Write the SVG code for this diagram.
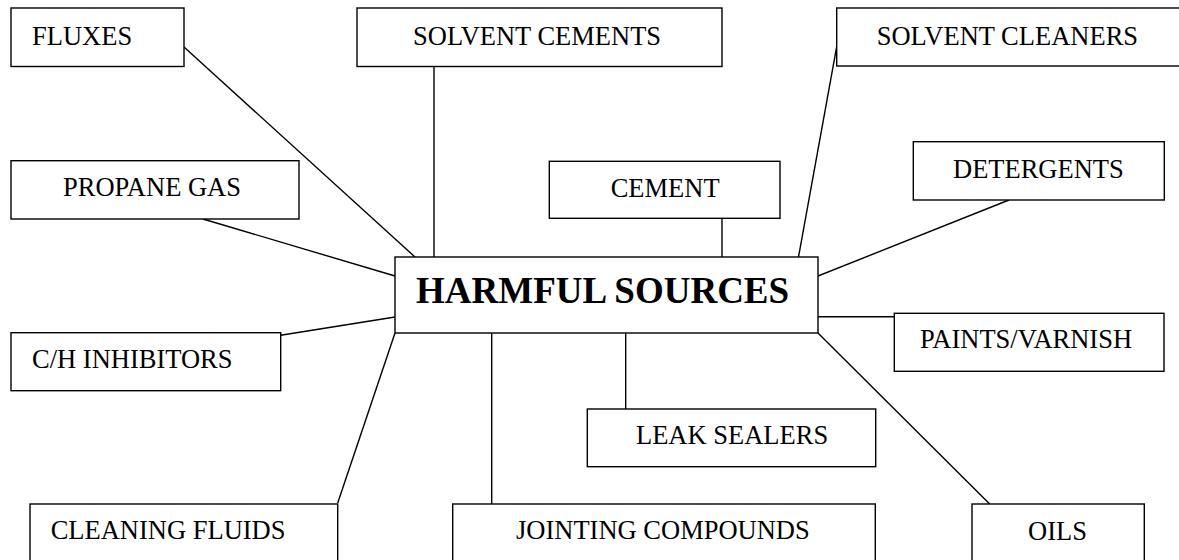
<svg xmlns="http://www.w3.org/2000/svg" width="1179" height="560" viewBox="0 0 1179 560">
<style>
.box{fill:#fff;stroke:#000;stroke-width:1.4}
.lbl{font-family:"Liberation Serif","Times New Roman",serif;font-size:26.5px;fill:#000}
.hub{font-family:"Liberation Serif","Times New Roman",serif;font-size:37px;font-weight:bold;fill:#000}
.conn line{stroke:#000;stroke-width:1.4}
</style>
<rect width="1179" height="560" fill="#fff"/>
<g class="conn" id="connectors">
<line x1="184" y1="47" x2="415" y2="257"/>
<line x1="434" y1="66" x2="434" y2="257"/>
<line x1="836.7" y1="46.7" x2="798.5" y2="257"/>
<line x1="722" y1="218" x2="722" y2="257"/>
<line x1="1009" y1="200" x2="818" y2="276"/>
<line x1="203" y1="219" x2="395" y2="276"/>
<line x1="280.7" y1="335.3" x2="395" y2="317"/>
<line x1="337.7" y1="503" x2="395" y2="333"/>
<line x1="491.7" y1="333" x2="491.7" y2="504"/>
<line x1="625.7" y1="333" x2="625.7" y2="409"/>
<line x1="818" y1="316.7" x2="894" y2="316.7"/>
<line x1="818" y1="333" x2="990.7" y2="505"/>
</g>
<g id="harmful"><rect class="box" x="395" y="257" width="423" height="76"/><text class="hub" x="416" y="303">HARMFUL SOURCES</text></g>
<g id="fluxes"><rect class="box" x="11" y="8" width="173" height="58.5"/><text class="lbl" x="32" y="45">FLUXES</text></g>
<g id="solvent-cements"><rect class="box" x="357" y="8" width="365" height="58.5"/><text class="lbl" x="413" y="45">SOLVENT CEMENTS</text></g>
<g id="solvent-cleaners"><rect class="box" x="836.7" y="8" width="350" height="58"/><text class="lbl" x="876.7" y="45">SOLVENT CLEANERS</text></g>
<g id="propane"><rect class="box" x="11" y="160.7" width="288" height="58.3"/><text class="lbl" x="63" y="195.7">PROPANE GAS</text></g>
<g id="cement"><rect class="box" x="549.3" y="161.3" width="230.7" height="57"/><text class="lbl" x="610.7" y="196.7">CEMENT</text></g>
<g id="detergents"><rect class="box" x="913.3" y="141.7" width="251" height="58.3"/><text class="lbl" x="953" y="178.3">DETERGENTS</text></g>
<g id="ch-inhibitors"><rect class="box" x="11" y="332.7" width="269.7" height="58"/><text class="lbl" x="32" y="368">C/H INHIBITORS</text></g>
<g id="paints"><rect class="box" x="894.3" y="313.3" width="269.7" height="58"/><text class="lbl" x="920" y="348">PAINTS/VARNISH</text></g>
<g id="leak-sealers"><rect class="box" x="587.3" y="409" width="288.4" height="57.7"/><text class="lbl" x="636" y="444">LEAK SEALERS</text></g>
<g id="cleaning-fluids"><rect class="box" x="30" y="504" width="307.7" height="70"/><text class="lbl" x="50.7" y="539">CLEANING FLUIDS</text></g>
<g id="jointing"><rect class="box" x="452.7" y="504" width="422.6" height="70"/><text class="lbl" x="516" y="539">JOINTING COMPOUNDS</text></g>
<g id="oils"><rect class="box" x="972" y="504" width="172.3" height="70"/><text class="lbl" x="1028" y="539.5">OILS</text></g>
</svg>
